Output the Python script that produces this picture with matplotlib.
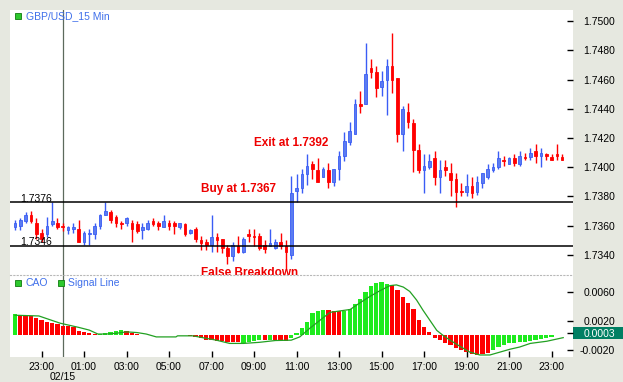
import matplotlib
matplotlib.use("Agg")
import matplotlib.pyplot as plt
import matplotlib.transforms as mtransforms
from matplotlib.patches import Rectangle
import numpy as np
import pandas as pd

plt.rcParams['font.family'] = ['Liberation Sans', 'DejaVu Sans']

# GBP/USD 15 minute bars, 21:45 on 02/14 up to 23:30 on 02/15
opens = [1.7359, 1.7360, 1.7363, 1.7367, 1.7362, 1.7355, 1.7354, 1.7361, 1.7362, 1.7360,
         1.7357, 1.7358, 1.7358, 1.7349, 1.7354, 1.7354, 1.7360, 1.7367, 1.7369, 1.7366,
         1.7362, 1.7362, 1.7362, 1.7361, 1.7357, 1.7358, 1.7363, 1.7362, 1.7359, 1.7362,
         1.7362, 1.7359, 1.7361, 1.7355, 1.7358, 1.7350, 1.7349, 1.7347, 1.7352, 1.7351,
         1.7345, 1.7339, 1.7346, 1.7342, 1.7354, 1.7353, 1.7353, 1.7347, 1.7346, 1.7345,
         1.7349, 1.7346, 1.7340, 1.7384, 1.7386, 1.7395, 1.7402, 1.7398, 1.7393, 1.7398,
         1.7390, 1.7399, 1.7408, 1.7417, 1.7423, 1.7443, 1.7443, 1.7468, 1.7465, 1.7455,
         1.7460, 1.7469, 1.7461, 1.7423, 1.7438, 1.7430, 1.7412, 1.7398, 1.7400, 1.7406,
         1.7393, 1.7400, 1.7396, 1.7392, 1.7384, 1.7383, 1.7387, 1.7383, 1.7389, 1.7393,
         1.7398, 1.7400, 1.7405, 1.7402, 1.7406, 1.7402, 1.7407, 1.7407, 1.7411, 1.7408,
         1.7409, 1.7407, 1.7409, 1.7407]
highs = [1.7364, 1.7365, 1.7369, 1.7370, 1.7365, 1.7358, 1.7366, 1.7376, 1.7365, 1.7362,
         1.7360, 1.7362, 1.7364, 1.7356, 1.7358, 1.7362, 1.7368, 1.7376, 1.7371, 1.7367,
         1.7363, 1.7366, 1.7364, 1.7363, 1.7362, 1.7364, 1.7365, 1.7363, 1.7367, 1.7364,
         1.7363, 1.7362, 1.7362, 1.7358, 1.7359, 1.7353, 1.7351, 1.7367, 1.7355, 1.7351,
         1.7347, 1.7349, 1.7353, 1.7352, 1.7358, 1.7358, 1.7355, 1.7350, 1.7358, 1.7351,
         1.7355, 1.7350, 1.7394, 1.7395, 1.7399, 1.7409, 1.7404, 1.7406, 1.7400, 1.7403,
         1.7399, 1.7411, 1.7424, 1.7431, 1.7447, 1.7452, 1.7485, 1.7474, 1.7469, 1.7466,
         1.7474, 1.7492, 1.7461, 1.7442, 1.7444, 1.7433, 1.7416, 1.7409, 1.7409, 1.7411,
         1.7405, 1.7405, 1.7403, 1.7396, 1.7389, 1.7395, 1.7393, 1.7394, 1.7396, 1.7402,
         1.7403, 1.7411, 1.7408, 1.7407, 1.7409, 1.7411, 1.7410, 1.7413, 1.7416, 1.7413,
         1.7410, 1.7409, 1.7416, 1.7409]
lows = [1.7357, 1.7357, 1.7362, 1.7362, 1.7351, 1.7349, 1.7352, 1.7360, 1.7358, 1.7356,
        1.7354, 1.7355, 1.7349, 1.7347, 1.7347, 1.7351, 1.7358, 1.7367, 1.7362, 1.7359,
        1.7358, 1.7360, 1.7349, 1.7355, 1.7351, 1.7357, 1.7360, 1.7357, 1.7359, 1.7357,
        1.7354, 1.7358, 1.7353, 1.7354, 1.7349, 1.7343, 1.7343, 1.7342, 1.7342, 1.7341,
        1.7334, 1.7336, 1.7341, 1.7341, 1.7349, 1.7346, 1.7343, 1.7341, 1.7346, 1.7344,
        1.7344, 1.7330, 1.7337, 1.7376, 1.7382, 1.7388, 1.7392, 1.7390, 1.7393, 1.7386,
        1.7387, 1.7391, 1.7404, 1.7415, 1.7423, 1.7437, 1.7443, 1.7461, 1.7448, 1.7449,
        1.7436, 1.7451, 1.7417, 1.7411, 1.7427, 1.7397, 1.7396, 1.7382, 1.7399, 1.7388,
        1.7382, 1.7394, 1.7380, 1.7373, 1.7380, 1.7380, 1.7379, 1.7381, 1.7386, 1.7392,
        1.7397, 1.7399, 1.7401, 1.7402, 1.7401, 1.7401, 1.7405, 1.7405, 1.7403, 1.7400,
        1.7405, 1.7405, 1.7405, 1.7405]
closes = [1.7362, 1.7364, 1.7367, 1.7363, 1.7354, 1.7351, 1.7360, 1.7363, 1.7359, 1.7359,
          1.7359, 1.7359, 1.7349, 1.7355, 1.7355, 1.7360, 1.7367, 1.7370, 1.7364, 1.7362,
          1.7361, 1.7365, 1.7358, 1.7356, 1.7359, 1.7362, 1.7361, 1.7360, 1.7363, 1.7360,
          1.7360, 1.7362, 1.7354, 1.7357, 1.7351, 1.7348, 1.7347, 1.7352, 1.7350, 1.7345,
          1.7339, 1.7347, 1.7342, 1.7351, 1.7353, 1.7352, 1.7345, 1.7344, 1.7348, 1.7349,
          1.7346, 1.7342, 1.7382, 1.7386, 1.7395, 1.7401, 1.7399, 1.7390, 1.7399, 1.7390,
          1.7399, 1.7408, 1.7418, 1.7425, 1.7443, 1.7442, 1.7464, 1.7465, 1.7454, 1.7459,
          1.7469, 1.7460, 1.7423, 1.7440, 1.7431, 1.7412, 1.7398, 1.7401, 1.7404, 1.7393,
          1.7398, 1.7398, 1.7391, 1.7383, 1.7383, 1.7387, 1.7382, 1.7390, 1.7396, 1.7399,
          1.7400, 1.7406, 1.7404, 1.7406, 1.7403, 1.7408, 1.7406, 1.7410, 1.7408, 1.7410,
          1.7408, 1.7405, 1.7408, 1.7405]

# CAO histogram (g = rising bar, r = falling bar) and its signal line
cao = [0.00300, 0.00284, 0.00284, 0.00274, 0.00246, 0.00214, 0.00191, 0.00177, 0.00158, 0.00134,
       0.00125, 0.00111, 0.00065, 0.00042, 0.00028, 0.00014, 0.00023, 0.00032, 0.00051, 0.00065,
       0.00069, 0.00067, 0.00028, 0.00014, 0.00005, 0.00002, 0.00003, 0.00004, 0.00001, 0.00001,
       0.00000, 0.00001, 0.00001, -0.00005, -0.00020, -0.00040, -0.00065, -0.00065, -0.00074, -0.00083,
       -0.00092, -0.00092, -0.00092, -0.00110, -0.00092, -0.00074, -0.00065, -0.00068, -0.00065, -0.00066,
       -0.00068, -0.00070, -0.00040, 0.00028, 0.00098, 0.00191, 0.00307, 0.00344, 0.00353, 0.00353,
       0.00344, 0.00344, 0.00344, 0.00372, 0.00437, 0.00502, 0.00605, 0.00688, 0.00725, 0.00735,
       0.00716, 0.00702, 0.00623, 0.00539, 0.00456, 0.00363, 0.00214, 0.00112, 0.00047, -0.00037,
       -0.00065, -0.00102, -0.00135, -0.00167, -0.00195, -0.00228, -0.00260, -0.00270, -0.00260, -0.00240,
       -0.00200, -0.00160, -0.00130, -0.00110, -0.00102, -0.00095, -0.00088, -0.00078, -0.00060, -0.00046,
       -0.00032, -0.00023]
cao_dir = ("grrrrrrrrrrrrrrrggggg" "rrrrrggrrgggrrrrrrrrrr" "ggggrgrrrg" "gggggg" "rrrggggggggg"
           "rrrrrrrrrrrrrrrrrrr" "gggggggggggggg")

signal_x = [0, 4.5, 8.5, 10.3, 12.1, 14, 15.6, 17.2, 19, 21, 23, 24.7, 26.6, 30.3, 30.6, 33.5,
            35.3, 37.9, 40.4, 43, 46, 49, 52, 53.6, 55.5, 57.4, 59.3, 61.2, 63.1, 64.9, 66.8,
            68.7, 70.6, 71.8, 73.1, 74.3, 75.6, 76.8, 78.1, 79.4, 80.6, 81.9, 83.75, 85.6,
            87.5, 89.4, 91.3, 93.2, 95, 97, 100.1, 103.2]
signal_y = [0.0028, 0.0027, 0.0017, 0.0014, 0.0011, 0.00074, 0.0002, 0.0002, 0.0003, 0.0005,
            0.0004, 0.0002, -0.0002, -0.0002, -0.00005, -0.00005, -0.0003, -0.00065, -0.0011,
            -0.0011, -0.00095, -0.0007, -0.00065, -0.0002, 0.0010, 0.0021, 0.0032, 0.0034,
            0.0036, 0.0045, 0.0054, 0.0062, 0.0069, 0.0070, 0.0067, 0.0061, 0.0049, 0.0035,
            0.0021, 0.0007, 0.0000, -0.00065, -0.0015, -0.0023, -0.0027, -0.0027, -0.0023,
            -0.0019, -0.0016, -0.0011, -0.0008, -0.0003]

levels = [1.7376, 1.7346]
price_ticks = [1.7340, 1.7360, 1.7380, 1.7400, 1.7420, 1.7440, 1.7460, 1.7480, 1.7500]
cao_ticks = [0.0060, 0.0020, -0.0020]
last_cao = 0.0003

times = pd.date_range("2006-02-14 21:45", periods=len(opens), freq="15min")

bg = "#E6E8E0"
blue = "#3A5CF5"
blue_body = "#5B7CF0"
red = "#FF0000"
label_blue = "#3F6FEA"

fig = plt.figure(figsize=(6.23, 3.82), dpi=100, facecolor=bg)
ax1 = fig.add_axes([10 / 623, 107 / 382, 563 / 623, 265 / 382])
ax2 = fig.add_axes([10 / 623, 25 / 382, 563 / 623, 82 / 382], sharex=ax1)

x = np.arange(len(opens))
o, h, l, c = (np.array(v) for v in (opens, highs, lows, closes))
up = c > o
edge = np.where(up, blue, red)
face = np.where(up, blue_body, red)

ax1.vlines(x, l, h, colors=edge, lw=1.0, zorder=2)
ax1.bar(x, np.maximum(np.abs(c - o), 0.00003), bottom=np.minimum(o, c), width=0.5,
        color=face, edgecolor=edge, linewidth=0.6, zorder=3)

for lv in levels:
    ax1.axhline(lv, color="black", lw=1.1, zorder=4)
    ax1.text(1.07, lv + 0.00004, f"{lv:.4f}", fontsize=7.5, ha="left", va="baseline")

ax1.text(52.05, 1.74169, "Exit at 1.7392", color="#EE0000", fontsize=8.5, fontweight="bold",
         ha="center", va="center")
ax1.text(42.07, 1.73848, "Buy at 1.7367", color="#EE0000", fontsize=8.5, fontweight="bold",
         ha="center", va="center")
ax1.text(44.14, 1.73276, "False Breakdown", color="#EE0000", fontsize=8.5, fontweight="bold",
         ha="center", va="center", clip_on=True)

# oscillator
cx = np.arange(len(cao))
ccol = ["#1EEB1E" if d == "g" else red for d in cao_dir[:len(cao)]]
ax2.bar(cx, cao, width=0.8, color=ccol, linewidth=0, zorder=2)
ax2.plot(signal_x, signal_y, color="#22A022", lw=0.9, zorder=3)

midnight = int(np.where((times.hour == 0) & (times.minute == 0))[0][0])
for ax in (ax1, ax2):
    ax.axvline(midnight, color="#5C6A5C", lw=0.9, zorder=1)
    ax.set_facecolor("white")
    for s in ax.spines.values():
        s.set_visible(False)
    ax.yaxis.tick_right()
    ax.tick_params(axis="y", direction="in", length=4, width=1, pad=30.2,
                   labelsize=7.5, colors="black")

ax2.spines["top"].set_visible(True)
ax2.spines["top"].set_linestyle((0, (1, 2)))
ax2.spines["top"].set_color("#B8B8B8")
ax2.spines["top"].set_linewidth(0.8)

ax1.set_xlim(-0.94, 105.04)
ax1.set_ylim(1.73262, 1.75076)
ax2.set_ylim(-0.00298, 0.00837)

ax1.set_yticks(price_ticks)
ax1.set_yticklabels([f"{v:.4f}" for v in price_ticks])
plt.setp(ax1.yaxis.get_majorticklabels(), ha="right")

ax2.set_yticks(cao_ticks + [last_cao])
ax2.set_yticklabels([f"{v:.4f}" for v in cao_ticks + [last_cao]])
plt.setp(ax2.yaxis.get_majorticklabels(), ha="right")
ax2.yaxis.get_majorticklabels()[-1].set_color("white")

# highlighted box for the latest value
trans = mtransforms.blended_transform_factory(ax2.transAxes, ax2.transData)
half = 6 * (0.00837 + 0.00298) / 82
ax2.add_patch(Rectangle((1.0, last_cao - half), 50 / 563, 2 * half, transform=trans,
                        facecolor="#007F63", edgecolor="none", clip_on=False, zorder=1))

tick_idx = np.where((times.minute == 0) & (times.hour % 2 == 1))[0]
ax2.set_xticks(tick_idx)
ax2.set_xticklabels([times[i].strftime("%H:%M") for i in tick_idx])
ax2.tick_params(axis="x", direction="in", length=4, width=1, pad=3.4, labelsize=7.5)
ax1.tick_params(axis="x", bottom=False, labelbottom=False)
ax2.annotate(times[midnight].strftime("%m/%d"), xy=(midnight, 0),
             xycoords=("data", "axes fraction"), xytext=(0, -14.4),
             textcoords="offset points", ha="center", va="center", fontsize=7.5)

# legend boxes
def legend_item(ax, xm, y, label):
    ax.plot([xm], [y], marker="s", markersize=4.6, markerfacecolor="#2DC82D",
            markeredgecolor="#0E7A0E", markeredgewidth=0.6, transform=ax.transAxes,
            clip_on=False, zorder=5)
    ax.text(xm + 0.0136, y, label, transform=ax.transAxes, color=label_blue,
            fontsize=7.5, ha="left", va="center")

legend_item(ax1, 0.0148, 0.976, "GBP/USD_15 Min")
legend_item(ax2, 0.0148, 0.902, "CAO")
legend_item(ax2, 0.0897, 0.902, "Signal Line")

fig.savefig("out.png", dpi=100, facecolor=bg)
